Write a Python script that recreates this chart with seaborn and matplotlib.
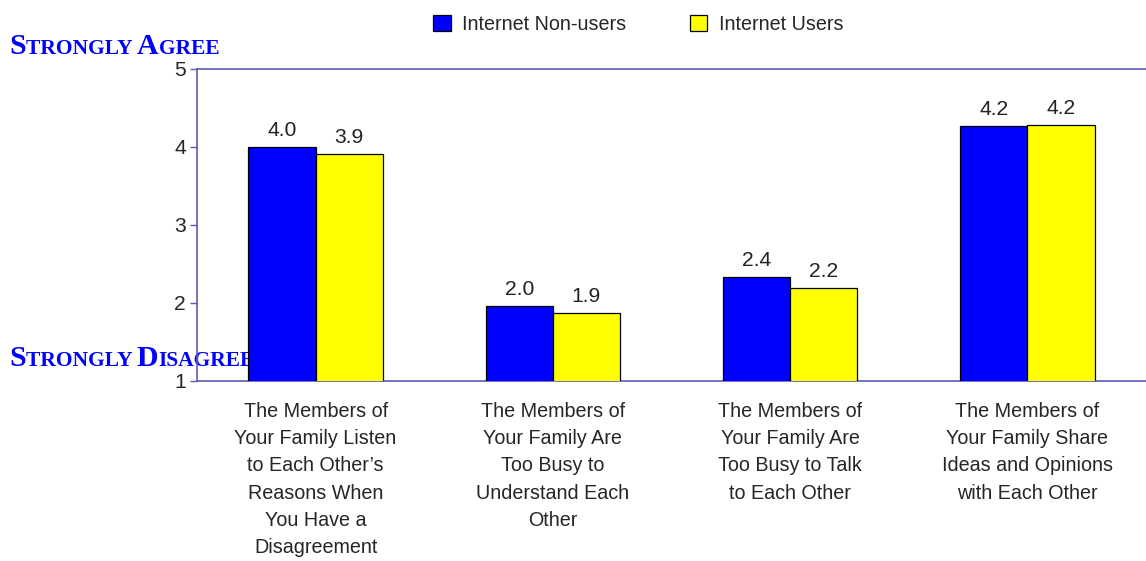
import matplotlib
matplotlib.use("Agg")
import matplotlib.pyplot as plt
import seaborn as sns
import pandas as pd
from matplotlib.offsetbox import TextArea, HPacker, AnchoredOffsetbox
from matplotlib.patches import Patch

categories = ["Listen", "TooBusyUnderstand", "TooBusyTalk", "ShareIdeas"]
tick_labels = [
    "The Members of\nYour Family Listen\nto Each Other\u2019s\nReasons When\nYou Have a\nDisagreement",
    "The Members of\nYour Family Are\nToo Busy to\nUnderstand Each\nOther",
    "The Members of\nYour Family Are\nToo Busy to Talk\nto Each Other",
    "The Members of\nYour Family Share\nIdeas and Opinions\nwith Each Other",
]
series = ["Internet Non-users", "Internet Users"]
nonusers = [4.00, 1.96, 2.33, 4.27]
users = [3.91, 1.87, 2.19, 4.28]
nonusers_labels = ["4.0", "2.0", "2.4", "4.2"]
users_labels = ["3.9", "1.9", "2.2", "4.2"]
yticks = [1, 2, 3, 4, 5]
colors = ["#0000ff", "#ffff00"]
axis_color = "#5c5cb0"

sns.set_theme(style="white")
plt.rcParams["font.family"] = ["Liberation Sans Narrow", "Liberation Sans", "DejaVu Sans"]

df = pd.DataFrame({
    "category": categories * 2,
    "value": nonusers + users,
    "series": [series[0]] * 4 + [series[1]] * 4,
})

fig = plt.figure(figsize=(11.46, 5.61), dpi=100)
ax = fig.add_axes([197 / 1146, 1 - 381 / 561, 1 - 197 / 1146, (381 - 69) / 561])

sns.barplot(data=df, x="category", y="value", hue="series", palette=colors,
            order=categories, hue_order=series, width=0.566, gap=0, saturation=1,
            edgecolor="black", linewidth=0.9, ax=ax, legend=False, zorder=3)

FS = 14.2
ax.set_ylim(1, 5)
ax.set_xlim(-0.5, 3.5)
ax.set_yticks(yticks)
ax.set_yticklabels([str(t) for t in yticks], fontsize=FS + 1)
ax.set_xticks(range(len(categories)))
ax.set_xticklabels(tick_labels, fontsize=FS, linespacing=1.55)
ax.set_xlabel("")
ax.set_ylabel("")
ax.tick_params(axis="y", direction="out", length=5, width=1, color=axis_color, pad=3, left=True)
ax.tick_params(axis="x", length=0, pad=15)

for s in ["left", "bottom", "top"]:
    ax.spines[s].set_visible(True)
    ax.spines[s].set_color(axis_color)
    ax.spines[s].set_linewidth(1.2)
ax.spines["right"].set_visible(False)

for cont, labs in zip(ax.containers, [nonusers_labels, users_labels]):
    ax.bar_label(cont, labels=labs, padding=5, fontsize=FS + 1, color="#222222")

# small-caps labels (drawn below the bars)
def smallcaps(parts, x, y):
    boxes = []
    for txt, big in parts:
        boxes.append(TextArea(txt, textprops=dict(family="Liberation Serif", weight="bold",
                                                  color="#0000ff", size=21.5 if big else 15.5)))
    pack = HPacker(children=boxes, align="baseline", pad=0, sep=0)
    ab = AnchoredOffsetbox(loc="lower left", child=pack, pad=0, borderpad=0, frameon=False,
                           bbox_to_anchor=(x, y), bbox_transform=fig.transFigure)
    ab.set_zorder(1)
    ab.set_clip_on(False)
    ax.add_artist(ab)

smallcaps([("S", True), ("TRONGLY ", False), ("A", True), ("GREE", False)], 9 / 1146, 1 - 60 / 561)
smallcaps([("S", True), ("TRONGLY ", False), ("D", True), ("ISAGREE", False)], 9 / 1146, 1 - 372 / 561)

handles = [Patch(facecolor=c, edgecolor="black", linewidth=0.9) for c in colors]
fig.legend(handles, series, loc="upper center", bbox_to_anchor=(0.557, 1.005), ncol=2,
           frameon=False, fontsize=FS, handlelength=0.9, handleheight=0.9,
           handletextpad=0.6, columnspacing=3.2)

fig.savefig("out.png", dpi=100)
